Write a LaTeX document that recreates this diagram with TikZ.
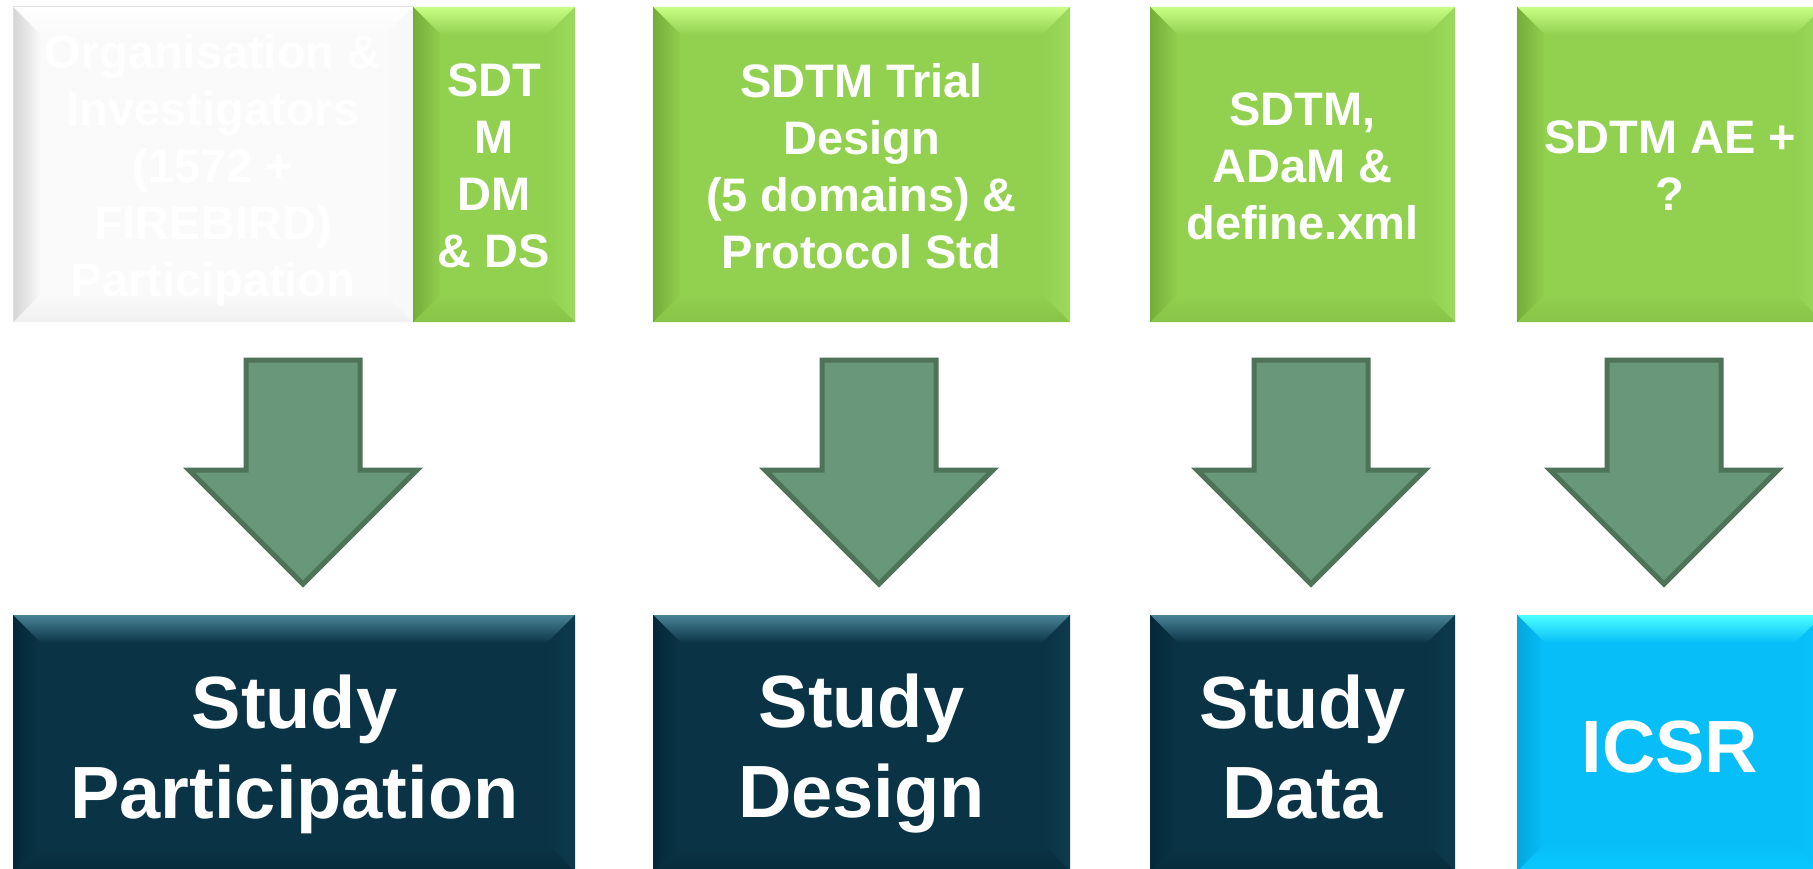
\documentclass[tikz,border=0pt]{standalone}
\usepackage{fontspec}
\setmainfont{Liberation Sans}
\definecolor{GB}{HTML}{92D050}
\definecolor{GT}{HTML}{C8FF85}
\definecolor{GL}{HTML}{74AC38}
\definecolor{GR}{HTML}{9CDA5C}
\definecolor{GD}{HTML}{88C447}
\definecolor{DB}{HTML}{0A3445}
\definecolor{DT}{HTML}{4A8298}
\definecolor{DL}{HTML}{05283A}
\definecolor{DR}{HTML}{0D3A4C}
\definecolor{DD}{HTML}{072C3C}
\definecolor{CB}{HTML}{07BEF8}
\definecolor{CT}{HTML}{4DFFFF}
\definecolor{CL}{HTML}{04A6DE}
\definecolor{CR}{HTML}{0AC4FC}
\definecolor{CD}{HTML}{09C8FF}
\definecolor{WB}{HTML}{FAFAFA}
\definecolor{WT}{HTML}{FFFFFF}
\definecolor{WL}{HTML}{D4D4D4}
\definecolor{WR}{HTML}{F7F7F7}
\definecolor{WD}{HTML}{F0F0F0}
\definecolor{arrowfill}{HTML}{69977A}
\definecolor{arrowline}{HTML}{4E7359}
\newcommand\bevbox[6]{%
  \pgfmathsetmacro\bw{#4-#2}\pgfmathsetmacro\bh{#5-#3}%
  \node[boxbase, fill=#6B, minimum width=\bw pt, minimum height=\bh pt] (#1) at ({(#2+#4)/2},{(#3+#5)/2}) {};
  \shade[top color=#6T, bottom color=#6B] (#1.north west) -- (#1.north east) -- ([shift={(-28,28)}]#1.north east) -- ([shift={(28,28)}]#1.north west) -- cycle;
  \shade[bottom color=#6D, top color=#6B] (#1.south west) -- (#1.south east) -- ([shift={(-28,-28)}]#1.south east) -- ([shift={(28,-28)}]#1.south west) -- cycle;
  \shade[left color=#6L, right color=#6B] (#1.north west) -- ([shift={(28,28)}]#1.north west) -- ([shift={(28,-28)}]#1.south west) -- (#1.south west) -- cycle;
  \shade[right color=#6R, left color=#6B] (#1.north east) -- ([shift={(-28,28)}]#1.north east) -- ([shift={(-28,-28)}]#1.south east) -- (#1.south east) -- cycle;
}
\newcommand\blockarrow[2]{%
  \draw[blockarr] (#2-57,360) coordinate (#1top) -- (#2+57,360) -- (#2+57,470) -- (#2+114,470) -- (#2,584) coordinate (#1tip) -- (#2-114,470) -- (#2-57,470) -- cycle;
}
\tikzset{
  boxbase/.style={draw=none, inner sep=0pt, outer sep=0pt, rectangle},
  toptext/.style={text=white, align=center, font=\bfseries\fontsize{47}{57}\selectfont, inner sep=0pt},
  bottext/.style={text=white, align=center, font=\bfseries\fontsize{74}{90}\selectfont, inner sep=0pt},
  blockarr/.style={fill=arrowfill, draw=arrowline, line width=5pt, line join=miter}
}
\begin{document}
\begin{tikzpicture}[x=1pt, y=-1pt]
\useasboundingbox (0,0) rectangle (1813,869);
\clip (0,0) rectangle (1813,869);
\fill[white] (0,0) rectangle (1813,869);
% top row
\bevbox{w1}{13}{7}{413}{322}{W}
\draw[draw=black!12, line width=1pt] (w1.south west) -- (w1.north west) -- (w1.north east);
\bevbox{g1}{413}{7}{575}{322}{G}
\bevbox{g2}{653}{7}{1070}{322}{G}
\bevbox{g3}{1150}{7}{1455}{322}{G}
\bevbox{g4}{1517}{7}{1823}{322}{G}
\node[toptext] (w1t) at (213,170) {Organisation \&\\Investigators\\(1572 +\\FIREBIRD)\\Participation};
\node[toptext] (g1t) at (494,166) {SDT\\M\\DM\\\& DS};
\node[toptext] (g2t) at (861.5,166) {SDTM Trial\\Design\\(5 domains) \&\\Protocol Std};
\node[toptext] (g3t) at (1302.5,166) {SDTM,\\ADaM \&\\define.xml};
\node[toptext] (g4t) at (1670,166) {SDTM AE +\\?};
% arrows
\blockarrow{a1}{303}
\blockarrow{a2}{879}
\blockarrow{a3}{1311}
\blockarrow{a4}{1664}
% bottom row
\bevbox{d1}{13}{615}{575}{871}{D}
\bevbox{d2}{653}{615}{1070}{871}{D}
\bevbox{d3}{1150}{615}{1455}{871}{D}
\bevbox{c4}{1517}{615}{1823}{871}{C}
\node[bottext] (d1t) at (294.5,754) {Study\\Participation};
\node[bottext] (d2t) at (861.5,754) {Study\\Design};
\node[bottext] (d3t) at (1302.5,747) {Study\\Data};
\node[bottext] (c4t) at (1670,747) {ICSR};
\end{tikzpicture}
\end{document}
